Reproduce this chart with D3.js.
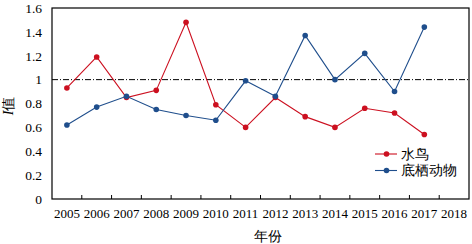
<!DOCTYPE html>
<html>
<head>
<meta charset="utf-8">
<script src="https://cdn.jsdelivr.net/npm/d3@7"></script>
</head>
<body style="margin:0; background:#fff">
<svg width="472" height="244" font-family="Liberation Serif"></svg>
<script>
// categories and values
const years = ['2005','2006','2007','2008','2009','2010','2011','2012','2013','2014','2015','2016','2017','2018'];
const birds = [0.93, 1.19, 0.85, 0.91, 1.48, 0.79, 0.60, 0.85, 0.69, 0.60, 0.76, 0.72, 0.54];
const benthos = [0.62, 0.77, 0.86, 0.75, 0.70, 0.66, 0.99, 0.86, 1.37, 1.00, 1.22, 0.90, 1.44];
const yTicks = [0, 0.2, 0.4, 0.6, 0.8, 1, 1.2, 1.4, 1.6];
const seriesNames = ['水鸟', '底栖动物'];
const colors = ['#cc1020', '#1f4e8c'];

const serif = "'Liberation Serif'";

const svg = d3.select('svg');
const margin = {top: 8, right: 3, bottom: 45, left: 52};
const width = +svg.attr('width');
const height = +svg.attr('height');
const innerWidth = width - margin.left - margin.right;
const innerHeight = height - margin.top - margin.bottom;

const g = svg.append('g')
  .attr('transform', `translate(${margin.left},${margin.top})`);

const xScale = d3.scaleBand().domain(years).range([0, innerWidth]);
const yScale = d3.scaleLinear().domain([0, 1.6]).range([innerHeight, 0]);

// y axis, labels only
const yAxis = g.append('g').call(d3.axisLeft(yScale).tickValues(yTicks).tickSize(0).tickPadding(10).tickFormat(d => d));
yAxis.attr('font-family', null);
yAxis.select('.domain').remove();
yAxis.selectAll('text').style('font-family', serif).style('font-size', '13.5px').attr('fill', '#000');

// x axis labels
const xAxis = g.append('g')
  .attr('transform', `translate(0,${innerHeight})`)
  .call(d3.axisBottom(xScale).tickSize(0).tickPadding(10));
xAxis.attr('font-family', null);
xAxis.select('.domain').remove();
xAxis.selectAll('text').style('font-family', serif).style('font-size', '13px').attr('fill', '#000');

// inward ticks at band edges
g.selectAll('.xtick')
  .data(years.slice(1))
  .enter().append('line')
    .attr('x1', d => xScale(d)).attr('x2', d => xScale(d))
    .attr('y1', innerHeight).attr('y2', innerHeight - 4)
    .attr('stroke', '#000').attr('stroke-width', 1);

// frame
g.append('rect')
  .attr('width', innerWidth).attr('height', innerHeight)
  .attr('fill', 'none').attr('stroke', '#000').attr('stroke-width', 1.2);

// reference line at 1
g.append('line')
  .attr('x1', 0).attr('x2', innerWidth)
  .attr('y1', yScale(1)).attr('y2', yScale(1))
  .attr('stroke', '#000').attr('stroke-width', 1)
  .attr('stroke-dasharray', '6,2,1,2');

const cx = i => xScale(years[i]) + xScale.bandwidth() / 2;
const line = d3.line().x((d, i) => cx(i)).y(d => yScale(d));

[birds, benthos].forEach((vals, k) => {
  g.append('path')
    .attr('d', line(vals))
    .attr('fill', 'none')
    .attr('stroke', colors[k])
    .attr('stroke-width', 1.1);
  g.selectAll('.pt' + k)
    .data(vals)
    .enter().append('circle')
      .attr('cx', (d, i) => cx(i))
      .attr('cy', d => yScale(d))
      .attr('r', 2.8)
      .attr('fill', colors[k]);
});

// legend
const legend = g.append('g').attr('transform', `translate(${323},${146})`);
seriesNames.forEach((name, k) => {
  const row = legend.append('g').attr('transform', `translate(0,${k * 16.5})`);
  row.append('line').attr('x1', 0).attr('x2', 22).attr('stroke', colors[k]).attr('stroke-width', 1.1);
  row.append('circle').attr('cx', 11.5).attr('r', 2.8).attr('fill', colors[k]);
  row.append('text').attr('x', 26).attr('dy', '0.35em')
    .style('font-family', serif).style('font-size', '14px').text(name);
});

// axis titles
svg.append('text')
  .attr('transform', `translate(13,106) rotate(-90)`)
  .attr('text-anchor', 'middle')
  .style('font-family', serif).style('font-size', '14px')
  .html('<tspan font-style="italic">I</tspan>值');

svg.append('text')
  .attr('x', 268)
  .attr('y', 241)
  .attr('text-anchor', 'middle')
  .style('font-family', serif).style('font-size', '14px')
  .text('年份');
</script>
</body>
</html>
